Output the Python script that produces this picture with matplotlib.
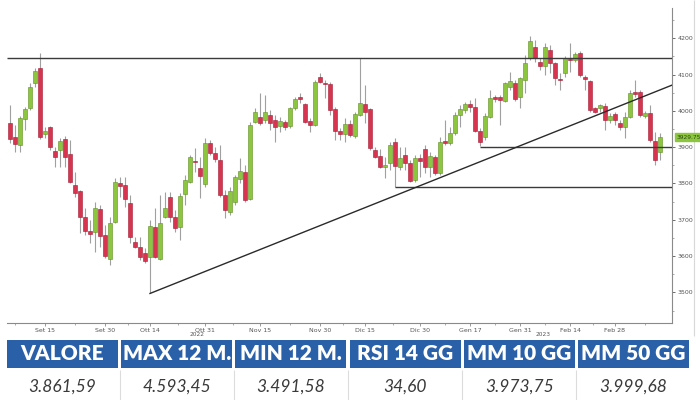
import numpy as np
import matplotlib
matplotlib.use("Agg")
import matplotlib.pyplot as plt
from matplotlib.patches import Rectangle

# OHLC, one candle per trading day
opens = [3966, 3928, 3906, 3978, 4008, 4077, 4118, 3936, 3955, 3890,
         3892, 3922, 3881, 3796, 3780, 3708, 3670, 3667, 3730, 3659,
         3592, 3695, 3801, 3796, 3747, 3640, 3625, 3609, 3598, 3680,
         3592, 3708, 3763, 3708, 3680, 3771, 3804, 3862, 3843, 3799,
         3911, 3884, 3865, 3769, 3722, 3750, 3812, 3832, 3757, 3969,
         3983, 3975, 3989, 3975, 3958, 3969, 3958, 4008, 4038, 4019,
         3972, 3961, 4094, 4077, 4074, 4005, 3945, 3936, 3964, 3931,
         3989, 4019, 4005, 3892, 3876, 3845, 3856, 3914, 3845, 3879,
         3856, 3810, 3870, 3895, 3845, 3873, 3829, 3917, 3911, 3939,
         3989, 4003, 4019, 4011, 3945, 3928, 3983, 4038, 4038, 4027,
         4066, 4077, 4038, 4085, 4146, 4176, 4135, 4124, 4168, 4132,
         4088, 4104, 4143, 4140, 4160, 4094, 4083, 4008, 4008, 4014,
         3975, 3992, 3966, 3955, 3983, 4052, 4052, 3986, 3994, 3917,
         3887]
highs = [4016, 3961, 3986, 4011, 4077, 4118, 4160, 3955, 3958, 3900,
         3925, 3931, 3920, 3832, 3782, 3733, 3700, 3750, 3741, 3686,
         3708, 3815, 3818, 3818, 3769, 3653, 3653, 3622, 3700, 3733,
         3769, 3777, 3777, 3727, 3774, 3823, 3879, 3897, 3873, 3925,
         3920, 3900, 3906, 3782, 3790, 3823, 3870, 3851, 3969, 4008,
         4049, 4044, 4003, 3989, 3983, 3975, 4011, 4038, 4049, 4022,
         3980, 4085, 4104, 4085, 4080, 4011, 3953, 3980, 3975, 3997,
         4146, 4072, 4008, 3900, 3895, 3873, 3914, 3925, 3900, 3900,
         3865, 3879, 3881, 3906, 3887, 3879, 3928, 3975, 3955, 3997,
         4016, 4025, 4030, 4036, 3953, 3994, 4058, 4044, 4044, 4080,
         4107, 4085, 4094, 4154, 4206, 4195, 4146, 4187, 4182, 4135,
         4104, 4151, 4187, 4162, 4165, 4099, 4085, 4011, 4019, 4022,
         3994, 3997, 3975, 3997, 4058, 4085, 4058, 4000, 4016, 3942,
         3939]
lows = [3912, 3887, 3887, 3947, 4002, 4066, 3922, 3925, 3892, 3845,
        3845, 3845, 3801, 3763, 3664, 3659, 3637, 3611, 3625, 3595,
        3576, 3692, 3763, 3736, 3637, 3623, 3589, 3581, 3497, 3595,
        3589, 3705, 3694, 3667, 3645, 3741, 3801, 3831, 3760, 3790,
        3879, 3859, 3763, 3705, 3714, 3741, 3801, 3750, 3755, 3966,
        3961, 3966, 3947, 3914, 3942, 3947, 3953, 4003, 4022, 3966,
        3942, 3958, 4077, 4036, 3989, 3920, 3920, 3914, 3928, 3925,
        3986, 3966, 3892, 3870, 3842, 3815, 3837, 3790, 3837, 3837,
        3804, 3804, 3818, 3829, 3818, 3824, 3824, 3906, 3906, 3934,
        3955, 3994, 3997, 3942, 3903, 3920, 3980, 4025, 3961, 4025,
        4058, 4027, 4008, 4049, 4140, 4135, 4113, 4099, 4104, 4072,
        4058, 4094, 4107, 4135, 4094, 4058, 3997, 3994, 3997, 3947,
        3966, 3961, 3947, 3925, 3980, 4038, 3983, 3980, 3914, 3851,
        3865]
closes = [3922, 3909, 3980, 4005, 4066, 4110, 3928, 3944, 3900, 3873,
          3917, 3873, 3804, 3774, 3708, 3670, 3661, 3733, 3656, 3600,
          3692, 3804, 3793, 3757, 3653, 3625, 3598, 3587, 3683, 3598,
          3692, 3733, 3708, 3678, 3766, 3809, 3873, 3858, 3821, 3911,
          3884, 3867, 3769, 3727, 3780, 3818, 3835, 3755, 3961, 3997,
          3966, 3997, 3966, 3955, 3972, 3955, 4008, 4033, 4033, 3969,
          3961, 4080, 4080, 4074, 4003, 3945, 3936, 3964, 3934, 3992,
          4022, 3997, 3898, 3873, 3845, 3851, 3906, 3848, 3870, 3856,
          3807, 3870, 3862, 3845, 3876, 3829, 3914, 3911, 3939, 3989,
          4005, 4019, 4011, 3945, 3914, 3986, 4036, 4033, 4030, 4077,
          4083, 4033, 4091, 4132, 4193, 4146, 4124, 4176, 4132, 4091,
          4085, 4146, 4140, 4157, 4099, 4088, 4003, 3997, 4016, 3975,
          3986, 3975, 3955, 3983, 4049, 4047, 3989, 3994, 3920, 3865,
          3928]

date_pos = [7, 19, 28, 39, 50, 62, 71, 82, 92, 102, 112, 121]
date_labels = ["Set 15", "Set 30", "Ott 14", "Ott 31", "Nov 15", "Nov 30",
               "Dic 15", "Dic 30", "Gen 17", "Gen 31", "Feb 14", "Feb 28"]
year_pos = [37.4, 106.6]
year_labels = ["2022", "2023"]
last_price = "3929.75"

# drawn levels: resistance, support lines, trendline (index, price)
resistance = 4146
support_1 = (94, 3900)
support_2 = (77, 3790)
trend_start = (28, 3497)
trend_end = (132.4, 4071)

headers = ["VALORE", "MAX 12 M.", "MIN 12 M.", "RSI 14 GG", "MM 10 GG", "MM 50 GG"]
values = ["3.861,59", "4.593,45", "3.491,58", "34,60", "3.973,75", "3.999,68"]

GREEN = "#8cc63f"
GREEN_EDGE = "#5f8f25"
RED = "#d8334f"
RED_EDGE = "#a01d36"
BLUE = "#2a60a8"

fig = plt.figure(figsize=(7, 4), dpi=100)

###############
# CANDLESTICK #
###############
ax = fig.add_axes([7 / 700, 1 - 323 / 400, 665 / 700, 315 / 400])

o = np.array(opens)
h = np.array(highs)
l = np.array(lows)
c = np.array(closes)
k = np.arange(len(o))
up = c >= o

ax.vlines(k, l, h, color="#a0a0a0", linewidth=0.8, zorder=2)
ax.bar(k[up], (c - o)[up], bottom=o[up], width=0.75,
       color=GREEN, edgecolor=GREEN_EDGE, linewidth=0.4, zorder=3)
ax.bar(k[~up], (o - c)[~up], bottom=c[~up], width=0.75,
       color=RED, edgecolor=RED_EDGE, linewidth=0.4, zorder=3)

x_left, x_right = -0.6, 132.4
ax.hlines(resistance, x_left, x_right, color="#3a3a3a", linewidth=1.0, zorder=4)
ax.hlines(support_1[1], support_1[0], x_right, color="#3a3a3a", linewidth=1.0, zorder=4)
ax.hlines(support_2[1], support_2[0], x_right, color="#3a3a3a", linewidth=1.0, zorder=4)
ax.plot([trend_start[0], trend_end[0]], [trend_start[1], trend_end[1]],
        color="#2a2a2a", linewidth=1.0, zorder=4)

ax.set_xlim(x_left, x_right)
ax.set_ylim(3415.6, 4283.5)

for s in ["left", "top"]:
    ax.spines[s].set_visible(False)
for s in ["right", "bottom"]:
    ax.spines[s].set_color("#8a8a8a")
    ax.spines[s].set_linewidth(0.8)

ax.yaxis.tick_right()
ax.set_yticks(np.arange(3500, 4201, 100))
ax.set_yticks(np.arange(3450, 4251, 50), minor=True)
ax.tick_params(axis="y", which="major", labelsize=4.5, labelcolor="#555555",
               length=2, width=0.6, color="#555555", pad=2)
ax.tick_params(axis="y", which="minor", length=1.2, width=0.5, color="#888888")

ax.set_xticks(date_pos)
ax.set_xticklabels(date_labels)
mids = [(a + b) / 2 for a, b in zip(date_pos[:-1], date_pos[1:])]
ax.set_xticks(mids + [1.0, 127.0], minor=True)
ax.tick_params(axis="x", which="major", labelsize=4.5, labelcolor="#555555",
               length=2, width=0.6, color="#888888", pad=1.5)
ax.tick_params(axis="x", which="minor", length=1.5, width=0.5, color="#888888")

for pos, lab in zip(year_pos, year_labels):
    ax.text(pos, -0.038, lab, transform=ax.get_xaxis_transform(),
            ha="center", va="center", fontsize=4.2, color="#555555")

# last price tag on the right axis
ax.annotate(last_price, xy=(1.0, closes[-1]), xycoords=("axes fraction", "data"),
            xytext=(3, 0), textcoords="offset points", ha="left", va="center",
            fontsize=4.2, color="#2d4a12",
            bbox=dict(boxstyle="square,pad=0.25", facecolor=GREEN, edgecolor=GREEN),
            annotation_clip=False)

#########
# TABLE #
#########
tab = fig.add_axes([0, 0, 1, 1], zorder=-1)
tab.set_xlim(0, 700)
tab.set_ylim(400, 0)
tab.axis("off")

tab.vlines(694, 0, 336, color="#d8d8d8", linewidth=0.8)

pitch, cell_w = 114.2, 111
for i, (hd, val) in enumerate(zip(headers, values)):
    x0 = 7 + i * pitch
    tab.add_patch(Rectangle((x0, 340), cell_w, 28, facecolor=BLUE, edgecolor="none"))
    tab.text(x0 + cell_w / 2, 353.5, hd, ha="center", va="center",
             fontsize=15, color="white", fontweight="heavy",
             family=["Lato", "DejaVu Sans"])
    tab.text(x0 + cell_w / 2, 387, val, ha="center", va="center",
             fontsize=12.5, color="#3a3a3a", style="italic",
             family=["Lato", "DejaVu Sans"])
    if i > 0:
        tab.vlines(x0 - 1.6, 370, 400, color="#dcdcdc", linewidth=0.8)

fig.savefig("out.png", dpi=100, facecolor="white")
